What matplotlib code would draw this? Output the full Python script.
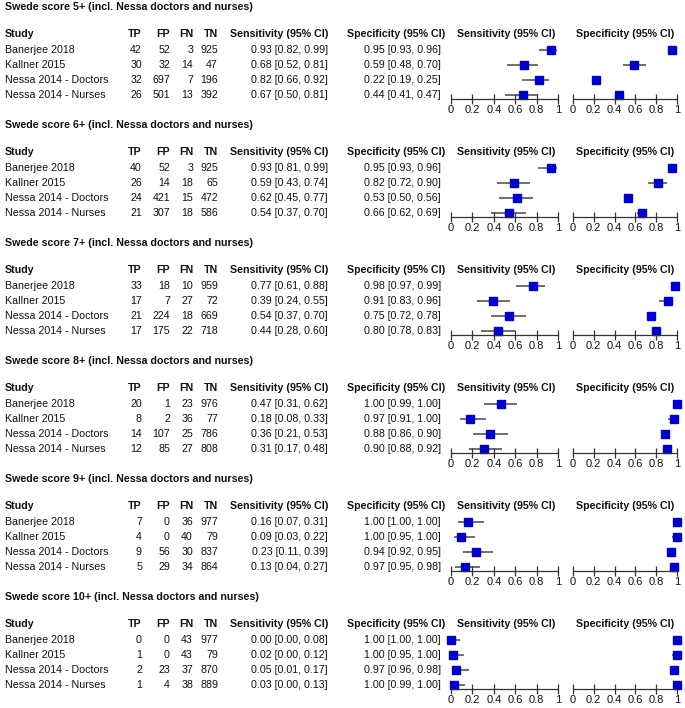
import matplotlib
matplotlib.use("Agg")
import matplotlib.pyplot as plt

plt.rcParams['font.family'] = ['Liberation Sans', 'DejaVu Sans']

# Data
scores = ['5+', '6+', '7+', '8+', '9+', '10+']
studies = ['Banerjee 2018', 'Kallner 2015', 'Nessa 2014 - Doctors', 'Nessa 2014 - Nurses']

tp = [[42, 30, 32, 26], [40, 26, 24, 21], [33, 17, 21, 17],
      [20, 8, 14, 12], [7, 4, 9, 5], [0, 1, 2, 1]]
fp = [[52, 32, 697, 501], [52, 14, 421, 307], [18, 7, 224, 175],
      [1, 2, 107, 85], [0, 0, 56, 29], [0, 0, 23, 4]]
fn = [[3, 14, 7, 13], [3, 18, 15, 18], [10, 27, 18, 22],
      [23, 36, 25, 27], [36, 40, 30, 34], [43, 43, 37, 38]]
tn = [[925, 47, 196, 392], [925, 65, 472, 586], [959, 72, 669, 718],
      [976, 77, 786, 808], [977, 79, 837, 864], [977, 79, 870, 889]]

sens = [[0.93, 0.68, 0.82, 0.67], [0.93, 0.59, 0.62, 0.54], [0.77, 0.39, 0.54, 0.44],
        [0.47, 0.18, 0.36, 0.31], [0.16, 0.09, 0.23, 0.13], [0.00, 0.02, 0.05, 0.03]]
sens_lo = [[0.82, 0.52, 0.66, 0.50], [0.81, 0.43, 0.45, 0.37], [0.61, 0.24, 0.37, 0.28],
           [0.31, 0.08, 0.21, 0.17], [0.07, 0.03, 0.11, 0.04], [0.00, 0.00, 0.01, 0.00]]
sens_hi = [[0.99, 0.81, 0.92, 0.81], [0.99, 0.74, 0.77, 0.70], [0.88, 0.55, 0.70, 0.60],
           [0.62, 0.33, 0.53, 0.48], [0.31, 0.22, 0.39, 0.27], [0.08, 0.12, 0.17, 0.13]]

spec = [[0.95, 0.59, 0.22, 0.44], [0.95, 0.82, 0.53, 0.66], [0.98, 0.91, 0.75, 0.80],
        [1.00, 0.97, 0.88, 0.90], [1.00, 1.00, 0.94, 0.97], [1.00, 1.00, 0.97, 1.00]]
spec_lo = [[0.93, 0.48, 0.19, 0.41], [0.93, 0.72, 0.50, 0.62], [0.97, 0.83, 0.72, 0.78],
           [0.99, 0.91, 0.86, 0.88], [1.00, 0.95, 0.92, 0.95], [1.00, 0.95, 0.96, 0.99]]
spec_hi = [[0.96, 0.70, 0.25, 0.47], [0.96, 0.90, 0.56, 0.69], [0.99, 0.96, 0.78, 0.83],
           [1.00, 1.00, 0.90, 0.92], [1.00, 1.00, 0.95, 0.98], [1.00, 1.00, 0.98, 1.00]]

W, H = 685, 708
fig = plt.figure(figsize=(W / 100, H / 100), dpi=100)
FS = 7.7
TXT = '#111111'


def put(x, y, s, **kw):
    # place text using pixel coordinates measured from the top-left corner
    fig.text(x / W, 1 - y / H, s, fontsize=FS, color=TXT, va='center', **kw)


def forest(x0, x1, top, bottom, est, lo, hi):
    ax = fig.add_axes([x0 / W, 1 - bottom / H, (x1 - x0) / W, (bottom - top) / H])
    rows = range(len(est))
    ax.hlines(rows, lo, hi, color='#555555', lw=1.2, zorder=1)
    ax.plot(est, rows, 's', color='#0000c8', ms=6.2, clip_on=False, zorder=2)
    ax.set_xlim(0, 1)
    ax.set_ylim(3 + 4 / 15, -8 / 15)
    for s in ['top', 'left', 'right']:
        ax.spines[s].set_visible(False)
    ax.spines['bottom'].set_color('#333333')
    ax.spines['bottom'].set_linewidth(0.9)
    ax.set_yticks([])
    ax.set_xticks([0, 0.2, 0.4, 0.6, 0.8, 1])
    ax.set_xticklabels(['0', '0.2', '0.4', '0.6', '0.8', '1'])
    ax.tick_params(axis='x', direction='inout', length=7, width=0.9,
                   color='#333333', labelsize=8, labelcolor=TXT, pad=1)
    ax.patch.set_visible(False)
    return ax


for i, score in enumerate(scores):
    t = 7 + 118 * i
    put(5, t, 'Swede score %s (incl. Nessa doctors and nurses)' % score,
        fontweight='bold', ha='left')
    hy = t + 27
    put(5, hy, 'Study', fontweight='bold', ha='left')
    put(142, hy, 'TP', fontweight='bold', ha='right')
    put(170, hy, 'FP', fontweight='bold', ha='right')
    put(193, hy, 'FN', fontweight='bold', ha='right')
    put(218, hy, 'TN', fontweight='bold', ha='right')
    put(328, hy, 'Sensitivity (95% CI)', fontweight='bold', ha='right')
    put(445, hy, 'Specificity (95% CI)', fontweight='bold', ha='right')
    put(506, hy, 'Sensitivity (95% CI)', fontweight='bold', ha='center')
    put(625, hy, 'Specificity (95% CI)', fontweight='bold', ha='center')

    for j, study in enumerate(studies):
        ry = t + 43 + 15 * j
        put(5, ry, study, ha='left')
        put(142, ry, str(tp[i][j]), ha='right')
        put(170, ry, str(fp[i][j]), ha='right')
        put(193, ry, str(fn[i][j]), ha='right')
        put(218, ry, str(tn[i][j]), ha='right')
        put(328, ry, '%.2f [%.2f, %.2f]' % (sens[i][j], sens_lo[i][j], sens_hi[i][j]), ha='right')
        put(441, ry, '%.2f [%.2f, %.2f]' % (spec[i][j], spec_lo[i][j], spec_hi[i][j]), ha='right')

    forest(451, 558, t + 35, t + 92, sens[i], sens_lo[i], sens_hi[i])
    forest(573, 677, t + 35, t + 92, spec[i], spec_lo[i], spec_hi[i])

fig.savefig('out.png', dpi=100)
